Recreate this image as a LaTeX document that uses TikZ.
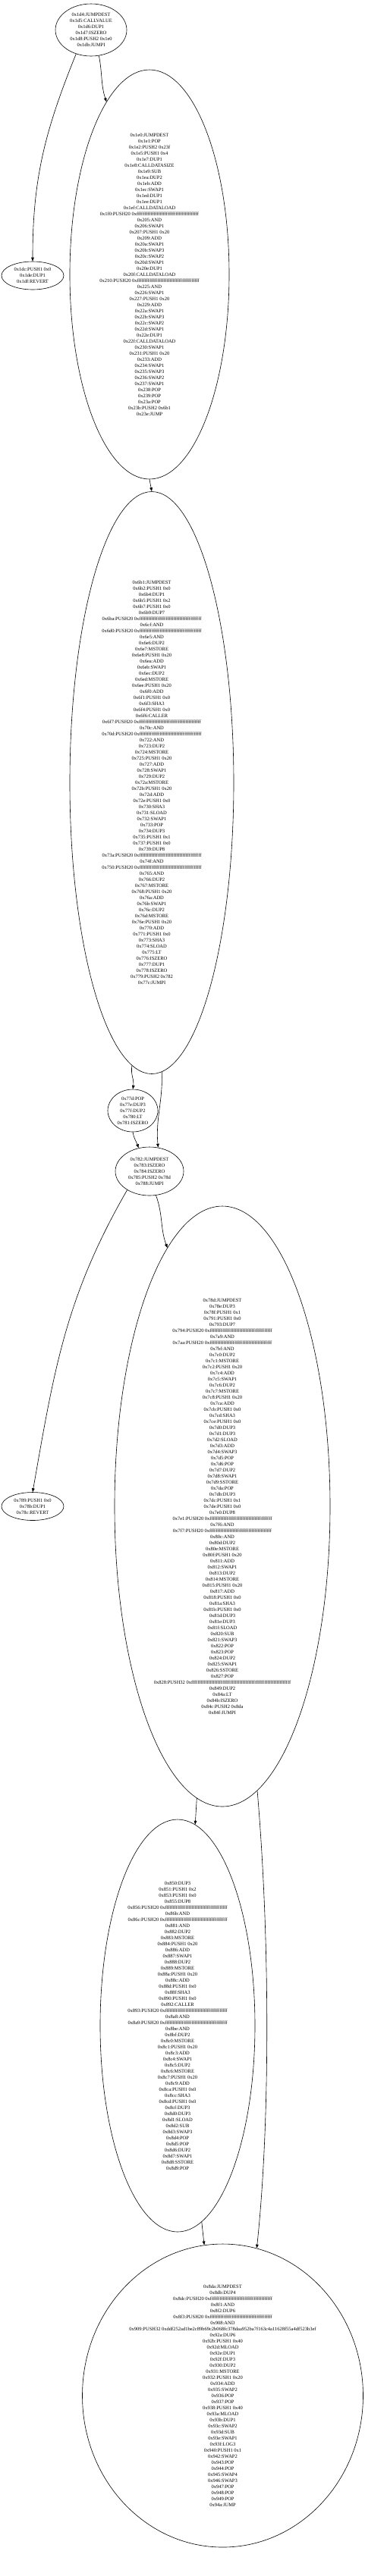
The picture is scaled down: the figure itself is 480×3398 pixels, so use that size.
\documentclass[tikz,border=0pt]{standalone}
\usepackage{fontspec}
\setmainfont{Liberation Serif}
\usetikzlibrary{shapes.geometric,arrows.meta}
\newcommand\FFa{0xffffffffffffffffffffffffffffffffffffffff}
\newcommand\FFb{0xffffffffffffffffffffffffffffffffffffffffffffffffffffffffffffffff}
\begin{document}
\begin{tikzpicture}[x=1pt,y=-1pt,
 blk/.style={ellipse, draw, line width=0.6pt, inner sep=0pt},
 txt/.style={align=center, font=\fontsize{6.5}{8}\selectfont, inner sep=0pt},
 arr/.style={-{Triangle[length=5pt,width=3.6pt]}, line width=0.6pt}]
\useasboundingbox (0,0) rectangle (480,3398);
% nodes
\node[blk, minimum width=94pt, minimum height=69pt] (e1) at (120,39.5) {};
\node[txt] (t1) at (e1) {0x1d4:JUMPDEST\\0x1d5:CALLVALUE\\0x1d6:DUP1\\0x1d7:ISZERO\\0x1d8:PUSH2 0x1e0\\0x1db:JUMPI};
\node[blk, minimum width=82pt, minimum height=37pt] (e2) at (43,363.5) {};
\node[txt] (t2) at (e2) {0x1dc:PUSH1 0x0\\0x1de:DUP1\\0x1df:REVERT};
\node[blk, minimum width=210pt, minimum height=540pt] (e3) at (197,362) {};
\node[txt] (t3) at (e3) {0x1e0:JUMPDEST\\0x1e1:POP\\0x1e2:PUSH2 0x23f\\0x1e5:PUSH1 0x4\\0x1e7:DUP1\\0x1e8:CALLDATASIZE\\0x1e9:SUB\\0x1ea:DUP2\\0x1eb:ADD\\0x1ec:SWAP1\\0x1ed:DUP1\\0x1ee:DUP1\\0x1ef:CALLDATALOAD\\0x1f0:PUSH20 \FFa\\0x205:AND\\0x206:SWAP1\\0x207:PUSH1 0x20\\0x209:ADD\\0x20a:SWAP1\\0x20b:SWAP3\\0x20c:SWAP2\\0x20d:SWAP1\\0x20e:DUP1\\0x20f:CALLDATALOAD\\0x210:PUSH20 \FFa\\0x225:AND\\0x226:SWAP1\\0x227:PUSH1 0x20\\0x229:ADD\\0x22a:SWAP1\\0x22b:SWAP3\\0x22c:SWAP2\\0x22d:SWAP1\\0x22e:DUP1\\0x22f:CALLDATALOAD\\0x230:SWAP1\\0x231:PUSH1 0x20\\0x233:ADD\\0x234:SWAP1\\0x235:SWAP3\\0x236:SWAP2\\0x237:SWAP1\\0x238:POP\\0x239:POP\\0x23a:POP\\0x23b:PUSH2 0x6b1\\0x23e:JUMP};
\node[blk, minimum width=216pt, minimum height=768pt] (e4) at (200,1032.5) {};
\node[txt] (t4) at (e4) {0x6b1:JUMPDEST\\0x6b2:PUSH1 0x0\\0x6b4:DUP1\\0x6b5:PUSH1 0x2\\0x6b7:PUSH1 0x0\\0x6b9:DUP7\\0x6ba:PUSH20 \FFa\\0x6cf:AND\\0x6d0:PUSH20 \FFa\\0x6e5:AND\\0x6e6:DUP2\\0x6e7:MSTORE\\0x6e8:PUSH1 0x20\\0x6ea:ADD\\0x6eb:SWAP1\\0x6ec:DUP2\\0x6ed:MSTORE\\0x6ee:PUSH1 0x20\\0x6f0:ADD\\0x6f1:PUSH1 0x0\\0x6f3:SHA3\\0x6f4:PUSH1 0x0\\0x6f6:CALLER\\0x6f7:PUSH20 \FFa\\0x70c:AND\\0x70d:PUSH20 \FFa\\0x722:AND\\0x723:DUP2\\0x724:MSTORE\\0x725:PUSH1 0x20\\0x727:ADD\\0x728:SWAP1\\0x729:DUP2\\0x72a:MSTORE\\0x72b:PUSH1 0x20\\0x72d:ADD\\0x72e:PUSH1 0x0\\0x730:SHA3\\0x731:SLOAD\\0x732:SWAP1\\0x733:POP\\0x734:DUP3\\0x735:PUSH1 0x1\\0x737:PUSH1 0x0\\0x739:DUP8\\0x73a:PUSH20 \FFa\\0x74f:AND\\0x750:PUSH20 \FFa\\0x765:AND\\0x766:DUP2\\0x767:MSTORE\\0x768:PUSH1 0x20\\0x76a:ADD\\0x76b:SWAP1\\0x76c:DUP2\\0x76d:MSTORE\\0x76e:PUSH1 0x20\\0x770:ADD\\0x771:PUSH1 0x0\\0x773:SHA3\\0x774:SLOAD\\0x775:LT\\0x776:ISZERO\\0x777:DUP1\\0x778:ISZERO\\0x779:PUSH2 0x782\\0x77c:JUMPI};
\node[blk, minimum width=66pt, minimum height=56pt] (e5) at (175,1465) {};
\node[txt] (t5) at (e5) {0x77d:POP\\0x77e:DUP3\\0x77f:DUP2\\0x780:LT\\0x781:ISZERO};
\node[blk, minimum width=90pt, minimum height=64pt] (e6) at (197,1545) {};
\node[txt] (t6) at (e6) {0x782:JUMPDEST\\0x783:ISZERO\\0x784:ISZERO\\0x785:PUSH2 0x78d\\0x788:JUMPI};
\node[blk, minimum width=82pt, minimum height=37pt] (e7) at (43,1987) {};
\node[txt] (t7) at (e7) {0x789:PUSH1 0x0\\0x78b:DUP1\\0x78c:REVERT};
\node[blk, minimum width=284pt, minimum height=792pt] (e8) at (293,1987) {};
\node[txt] (t8) at (e8) {0x78d:JUMPDEST\\0x78e:DUP3\\0x78f:PUSH1 0x1\\0x791:PUSH1 0x0\\0x793:DUP7\\0x794:PUSH20 \FFa\\0x7a9:AND\\0x7aa:PUSH20 \FFa\\0x7bf:AND\\0x7c0:DUP2\\0x7c1:MSTORE\\0x7c2:PUSH1 0x20\\0x7c4:ADD\\0x7c5:SWAP1\\0x7c6:DUP2\\0x7c7:MSTORE\\0x7c8:PUSH1 0x20\\0x7ca:ADD\\0x7cb:PUSH1 0x0\\0x7cd:SHA3\\0x7ce:PUSH1 0x0\\0x7d0:DUP3\\0x7d1:DUP3\\0x7d2:SLOAD\\0x7d3:ADD\\0x7d4:SWAP3\\0x7d5:POP\\0x7d6:POP\\0x7d7:DUP2\\0x7d8:SWAP1\\0x7d9:SSTORE\\0x7da:POP\\0x7db:DUP3\\0x7dc:PUSH1 0x1\\0x7de:PUSH1 0x0\\0x7e0:DUP8\\0x7e1:PUSH20 \FFa\\0x7f6:AND\\0x7f7:PUSH20 \FFa\\0x80c:AND\\0x80d:DUP2\\0x80e:MSTORE\\0x80f:PUSH1 0x20\\0x811:ADD\\0x812:SWAP1\\0x813:DUP2\\0x814:MSTORE\\0x815:PUSH1 0x20\\0x817:ADD\\0x818:PUSH1 0x0\\0x81a:SHA3\\0x81b:PUSH1 0x0\\0x81d:DUP3\\0x81e:DUP3\\0x81f:SLOAD\\0x820:SUB\\0x821:SWAP3\\0x822:POP\\0x823:POP\\0x824:DUP2\\0x825:SWAP1\\0x826:SSTORE\\0x827:POP\\0x828:PUSH32 \FFb\\0x849:DUP2\\0x84a:LT\\0x84b:ISZERO\\0x84c:PUSH2 0x8da\\0x84f:JUMPI};
\node[blk, minimum width=204pt, minimum height=544pt] (e9) at (234,2672) {};
\node[txt] (t9) at (e9) {0x850:DUP3\\0x851:PUSH1 0x2\\0x853:PUSH1 0x0\\0x855:DUP8\\0x856:PUSH20 \FFa\\0x86b:AND\\0x86c:PUSH20 \FFa\\0x881:AND\\0x882:DUP2\\0x883:MSTORE\\0x884:PUSH1 0x20\\0x886:ADD\\0x887:SWAP1\\0x888:DUP2\\0x889:MSTORE\\0x88a:PUSH1 0x20\\0x88c:ADD\\0x88d:PUSH1 0x0\\0x88f:SHA3\\0x890:PUSH1 0x0\\0x892:CALLER\\0x893:PUSH20 \FFa\\0x8a8:AND\\0x8a9:PUSH20 \FFa\\0x8be:AND\\0x8bf:DUP2\\0x8c0:MSTORE\\0x8c1:PUSH1 0x20\\0x8c3:ADD\\0x8c4:SWAP1\\0x8c5:DUP2\\0x8c6:MSTORE\\0x8c7:PUSH1 0x20\\0x8c9:ADD\\0x8ca:PUSH1 0x0\\0x8cc:SHA3\\0x8cd:PUSH1 0x0\\0x8cf:DUP3\\0x8d0:DUP3\\0x8d1:SLOAD\\0x8d2:SUB\\0x8d3:SWAP3\\0x8d4:POP\\0x8d5:POP\\0x8d6:DUP2\\0x8d7:SWAP1\\0x8d8:SSTORE\\0x8d9:POP};
\node[blk, minimum width=370pt, minimum height=400pt] (e10) at (293.5,3160) {};
\node[txt] (t10) at (e10) {0x8da:JUMPDEST\\0x8db:DUP4\\0x8dc:PUSH20 \FFa\\0x8f1:AND\\0x8f2:DUP6\\0x8f3:PUSH20 \FFa\\0x908:AND\\0x909:PUSH32 0xddf252ad1be2c89b69c2b068fc378daa952ba7f163c4a11628f55a4df523b3ef\\0x92a:DUP6\\0x92b:PUSH1 0x40\\0x92d:MLOAD\\0x92e:DUP1\\0x92f:DUP3\\0x930:DUP2\\0x931:MSTORE\\0x932:PUSH1 0x20\\0x934:ADD\\0x935:SWAP2\\0x936:POP\\0x937:POP\\0x938:PUSH1 0x40\\0x93a:MLOAD\\0x93b:DUP1\\0x93c:SWAP2\\0x93d:SUB\\0x93e:SWAP1\\0x93f:LOG3\\0x940:PUSH1 0x1\\0x942:SWAP2\\0x943:POP\\0x944:POP\\0x945:SWAP4\\0x946:SWAP3\\0x947:POP\\0x948:POP\\0x949:POP\\0x94a:JUMP};
% edges
\draw[arr] (e1.-122) to[out=-112,in=90] (e2.north);
\draw[arr] (e1.-73) to[out=-79,in=108] (e3.104);
\draw[arr] (e3.south) -- (e4.north);
\draw[arr] (e4.-94) to[out=-100,in=80] (e5.north);
\draw[arr] (e4.-88) to[out=-88,in=95] (e6.70);
\draw[arr] (e5.south) to[out=-80,in=110] (e6.115);
\draw[arr] (e6.-140) to[out=-120,in=80] (e7.north);
\draw[arr] (e6.-75) to[out=-70,in=110] (e8.102);
\draw[arr] (e8.-95) -- (e9.85);
\draw[arr] (e8.-83) .. controls (356,2560) and (356,2800) .. (e10.77);
\draw[arr] (e9.-83) -- (e10.97);
\end{tikzpicture}
\end{document}
